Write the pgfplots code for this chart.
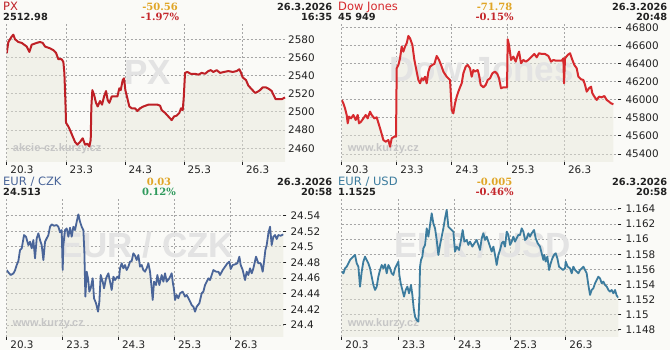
\documentclass[border=0pt]{standalone}
\usepackage{fontspec}
\setmainfont{DejaVu Sans}
\newfontfamily\serifb{DejaVu Serif}
\newfontfamily\wmfont{Liberation Sans}
\usepackage{xcolor}
\usepackage{pgfplots}
\usepackage{pgfplotstable}
\usepgfplotslibrary{fillbetween}
\pgfplotsset{compat=1.18}

\definecolor{bgc}{HTML}{FAFAF7}
\definecolor{fillc}{HTML}{E8E8DA}
\definecolor{gridc}{HTML}{A6A6A6}
\definecolor{pxc}{HTML}{BE2026}
\definecolor{djc}{HTML}{D62A2E}
\definecolor{czkc}{HTML}{4A6599}
\definecolor{usdc}{HTML}{3C7C9E}
\definecolor{goldc}{HTML}{E0A526}
\definecolor{redc}{HTML}{C4262B}
\definecolor{greenc}{HTML}{2E9A5C}
\definecolor{txtc}{HTML}{222222}
\definecolor{wmc}{HTML}{E3E3E3}
\definecolor{sitec}{HTML}{C6C6C6}
\pagecolor{bgc}

\pgfplotstableread{
x y
20 2564.6
25 2577
35 2583
40 2585
45 2580
55 2577
65 2576
80 2572
88 2566
95 2574
110 2576
120 2577
128 2576
135 2572
150 2570
160 2568
168 2565
175 2558
185 2558
190 2555
193 2543
196 2513
198 2488
205 2484
210 2480
218 2473
225 2467
232 2464
240 2467
248 2471
255 2464
262 2465
268 2462
272 2469
274 2506
277 2524
282 2519
288 2510
293 2506
300 2512
306 2508
312 2517
318 2523
323 2513
328 2510
335 2517
345 2517
352 2517
358 2526
362 2524
368 2535
372 2537
376 2524
382 2515
388 2506
395 2504
405 2504
412 2501
420 2504
430 2506
445 2508
460 2508
472 2508
480 2507
485 2502
495 2499
505 2495
515 2491
522 2495
530 2496
538 2499
543 2504
548 2502
551 2515
555 2543
562 2544
572 2542
585 2542
595 2541
605 2543
615 2542
625 2545
632 2546
640 2544
650 2546
660 2543
672 2544
685 2545
698 2544
710 2545
718 2547
722 2544
728 2538
738 2535
745 2529
755 2525
765 2521
772 2522
780 2524
788 2527
798 2527
808 2525
815 2523
820 2519
827 2514
835 2514
845 2514
855 2516
}\pxdata

\pgfplotstableread{
x y
20 45997
25 45960
30 45905
35 45831
38 45739
42 45813
48 45794
55 45831
62 45776
68 45831
72 45739
78 45757
85 45794
92 45831
98 45794
105 45868
110 45831
118 45794
125 45805
132 45721
138 45647
145 45555
152 45536
160 45555
165 45481
170 45573
178 45592
183 45592
185 46347
190 46384
195 46457
200 46586
205 46531
210 46586
215 46623
220 46704
225 46678
232 46605
238 46439
245 46310
250 46218
255 46181
260 46236
265 46218
270 46254
275 46181
280 46310
285 46365
292 46384
298 46395
305 46483
312 46439
318 46384
325 46310
335 46254
345 46218
350 45886
355 45849
360 45960
365 46034
370 46089
375 46137
380 46181
385 46292
392 46365
398 46384
405 46347
410 46254
415 46328
420 46310
428 46328
432 46273
437 46163
445 46137
452 46163
458 46218
465 46236
472 46292
480 46310
487 46284
492 46236
498 46126
505 46137
516 46137
518 46667
522 46605
528 46439
535 46476
542 46420
548 46494
552 46531
558 46402
565 46439
572 46420
580 46439
590 46476
598 46505
605 46468
612 46513
620 46505
630 46505
640 46483
648 46420
655 46439
662 46431
680 46431
685 46457
687 46181
690 46457
698 46494
705 46513
712 46439
718 46384
725 46347
730 46254
738 46225
745 46218
750 46163
755 46089
762 46126
768 46144
772 46071
778 46034
785 45997
792 46034
800 46026
808 46041
815 45997
822 45979
828 45960
835 45949
}\djdata

\pgfplotstableread{
x y
20 24.4704
25 24.4674
32 24.4640
40 24.4660
45 24.4700
50 24.4768
55 24.4820
60 24.4960
65 24.4980
72 24.5152
78 24.5130
85 24.5024
90 24.5067
95 24.4982
100 24.5088
105 24.4854
110 24.5110
115 24.5174
120 24.5088
125 24.5024
130 24.4832
135 24.5067
140 24.5110
145 24.5152
150 24.5259
155 24.5289
162 24.5272
170 24.5280
175 24.5259
180 24.5187
185 24.5216
188 24.4704
190 24.5024
195 24.5216
200 24.5238
205 24.5131
210 24.5246
215 24.5131
220 24.5259
225 24.5216
230 24.5323
235 24.5417
240 24.5323
245 24.5259
250 24.5216
253 24.4939
256 24.4363
260 24.4683
264 24.4598
268 24.4427
272 24.4470
278 24.4598
282 24.4342
288 24.4278
294 24.4171
298 24.4299
302 24.4640
308 24.4555
312 24.4470
318 24.4598
325 24.4662
330 24.4555
335 24.4448
340 24.4619
345 24.4576
352 24.4619
357 24.4598
360 24.4726
365 24.4790
370 24.4726
375 24.4768
380 24.4704
385 24.4747
390 24.4811
395 24.4820
400 24.4918
405 24.4888
410 24.4832
415 24.4896
420 24.4747
425 24.4768
430 24.4704
435 24.4683
440 24.4726
445 24.4790
450 24.4683
455 24.4470
458 24.4320
462 24.4555
468 24.4512
472 24.4640
478 24.4512
485 24.4640
490 24.4555
495 24.4662
500 24.4555
508 24.4598
515 24.4662
518 24.4555
522 24.4448
525 24.4320
530 24.4384
535 24.4342
540 24.4406
548 24.4427
555 24.4363
560 24.4384
568 24.4320
575 24.4256
580 24.4235
585 24.4171
590 24.4235
598 24.4278
605 24.4406
610 24.4427
615 24.4512
620 24.4555
625 24.4598
630 24.4576
635 24.4640
640 24.4704
648 24.4683
655 24.4683
660 24.4640
668 24.4704
675 24.4747
682 24.4790
688 24.4811
692 24.4717
698 24.4768
705 24.4777
712 24.4790
718 24.4875
722 24.4768
728 24.4704
735 24.4576
740 24.4683
745 24.4640
750 24.4726
755 24.4662
760 24.4726
768 24.4875
775 24.4790
782 24.4790
788 24.4683
792 24.4811
796 24.4960
800 24.5024
805 24.5174
810 24.5259
815 24.5024
820 24.5131
825 24.5152
830 24.5101
835 24.5152
842 24.5144
850 24.5160
}\czkdata

\pgfplotstableread{
x y
20 1.15571
25 1.15549
30 1.15615
35 1.15637
40 1.15681
45 1.15726
50 1.15748
55 1.15770
60 1.15792
65 1.15681
70 1.15637
75 1.15373
80 1.15571
85 1.15704
90 1.15770
95 1.15726
100 1.15681
105 1.15615
110 1.15505
115 1.15395
120 1.15329
125 1.15373
130 1.15505
135 1.15593
140 1.15659
145 1.15615
150 1.15668
155 1.15549
160 1.15659
165 1.15615
170 1.15549
175 1.15527
180 1.15615
185 1.15659
190 1.15704
193 1.15527
197 1.15417
202 1.15329
207 1.15241
212 1.15329
217 1.15373
222 1.15285
228 1.15395
232 1.15263
236 1.15086
240 1.14976
245 1.14932
250 1.14910
253 1.15219
255 1.15637
258 1.15726
262 1.15770
265 1.15880
270 1.15924
275 1.16144
280 1.16034
285 1.16188
290 1.16343
295 1.16210
300 1.16144
305 1.15990
310 1.15792
315 1.15924
320 1.16034
325 1.16144
330 1.16277
335 1.16387
340 1.16166
345 1.16144
350 1.16122
355 1.16100
360 1.15836
365 1.15902
372 1.15858
378 1.15990
383 1.16122
388 1.15968
395 1.15990
400 1.15924
405 1.15968
412 1.15902
418 1.15946
425 1.15990
430 1.15924
435 1.15858
440 1.16012
445 1.16078
450 1.15990
455 1.16034
460 1.15968
465 1.15902
470 1.15836
475 1.15902
480 1.15792
485 1.15659
490 1.15792
495 1.15858
500 1.15946
505 1.15968
510 1.15902
515 1.16100
520 1.16056
525 1.15924
530 1.15968
535 1.16034
540 1.15968
545 1.16012
550 1.16056
555 1.16056
560 1.16144
565 1.16100
570 1.15990
575 1.16012
580 1.16078
585 1.16034
590 1.16078
597 1.16122
602 1.16012
608 1.15946
615 1.15902
620 1.15814
625 1.15726
628 1.15792
632 1.15704
637 1.15770
642 1.15593
647 1.15681
652 1.15748
657 1.15792
662 1.15814
667 1.15748
672 1.15637
678 1.15615
684 1.15593
690 1.15615
692 1.15704
698 1.15637
705 1.15615
710 1.15549
715 1.15637
720 1.15593
725 1.15571
730 1.15549
735 1.15593
740 1.15615
745 1.15637
750 1.15593
755 1.15549
760 1.15395
765 1.15263
770 1.15329
775 1.15351
780 1.15417
785 1.15461
790 1.15505
795 1.15483
800 1.15417
805 1.15439
810 1.15395
815 1.15373
820 1.15329
825 1.15307
830 1.15329
835 1.15285
840 1.15329
845 1.15254
850 1.15227
}\usddata

\pgfplotsset{panel/.style={
  scale only axis, height=139pt,
  axis line style={draw=none},
  scaled x ticks=false, scaled y ticks=false,
  grid=major,
  major grid style={draw=gridc, line width=0.9pt, dash pattern=on 2pt off 2pt},
  tick align=outside, major tick length=3pt,
  xtick pos=bottom, ytick pos=right, yticklabel pos=right,
  tick style={draw=txtc, line width=1pt},
  xticklabels={20.3,23.3,24.3,25.3,26.3},
  xticklabel style={anchor=north west, inner sep=0pt, xshift=3.5pt, yshift=-1pt,
    font=\fontsize{10.4}{12}\selectfont, text=txtc},
  yticklabel style={anchor=west, inner sep=0pt, xshift=4pt,
    font=\fontsize{10.4}{12}\selectfont, text=txtc},
}}

\newcommand{\hdname}{\fontsize{11.5}{13}\selectfont}
\newcommand{\hdval}{\bfseries\fontsize{9.8}{11}\selectfont}
\newcommand{\hdchg}{\serifb\bfseries\fontsize{10}{12}\selectfont}
\newcommand{\wm}{\wmfont\bfseries\fontsize{35}{40}\selectfont}
\newcommand{\site}{\wmfont\bfseries\fontsize{11}{13}\selectfont}

\begin{document}
\begin{tikzpicture}[x=1pt,y=1pt]
\path (0,0) rectangle (670,350);

% watermarks
\node[anchor=base, inner sep=0, text=wmc, font=\wm] at (147.5,265) {PX};
\node[anchor=base, inner sep=0, text=wmc, font=\wm] at (481.5,268) {Dow Jones};
\node[anchor=base, inner sep=0, text=wmc, font=\wm] at (146.5,92) {EUR / CZK};
\node[anchor=base, inner sep=0, text=wmc, font=\wm] at (482.5,92) {EUR / USD};
\node[anchor=base west, inner sep=0, text=sitec, font=\site] at (12.7,198) {akcie-cz.kurzy.cz};
\node[anchor=base west, inner sep=0, text=sitec, font=\site] at (347.7,198) {www.kurzy.cz};
\node[anchor=base west, inner sep=0, text=sitec, font=\site] at (12.7,23) {www.kurzy.cz};
\node[anchor=base west, inner sep=0, text=sitec, font=\site] at (347.7,23) {www.kurzy.cz};

% ---------- PX ----------
\begin{axis}[panel, at={(6.7pt,327pt)}, anchor=north west, width=279.33pt,
  xmin=20, xmax=858, ymin=2444.9, ymax=2597.9,
  xtick={20,198,375,552,727},
  ytick={2460,2480,2500,2520,2540,2560,2580},
  yticklabels={2460,2480,2500,2520,2540,2560,2580},
  ytick style={draw=none},
  yticklabel style={xshift=-5pt}]
\addplot[draw=none, name path=pxbase, forget plot] coordinates {(20,2444.9) (855,2444.9)};
\addplot[color=pxc, line width=2pt, line join=round, name path=pxline] table {\pxdata};
\addplot[fill=fillc, fill opacity=0.45, draw=none] fill between[of=pxline and pxbase];
\end{axis}

% ---------- Dow Jones ----------
\begin{axis}[panel, at={(341.7pt,327pt)}, anchor=north west, width=276.67pt,
  xmin=20, xmax=850, ymin=45312, ymax=46847,
  xtick={20,185,350,518,688},
  ytick={45400,45600,45800,46000,46200,46400,46600,46800},
  yticklabels={45400,45600,45800,46000,46200,46400,46600,46800}]
\addplot[draw=none, name path=djbase, forget plot] coordinates {(20,45312) (835,45312)};
\addplot[color=djc, line width=2pt, line join=round, name path=djline] table {\djdata};
\addplot[fill=fillc, fill opacity=0.45, draw=none] fill between[of=djline and djbase];
\end{axis}

% ---------- EUR/CZK ----------
\begin{axis}[panel, at={(6.7pt,152pt)}, anchor=north west, width=276.67pt,
  xmin=20, xmax=850, ymin=24.3846, ymax=24.5627,
  xtick={20,188,355,523,692},
  ytick={24.4,24.42,24.44,24.46,24.48,24.5,24.52,24.54},
  yticklabels={24.4,24.42,24.44,24.46,24.48,24.5,24.52,24.54}]
\addplot[draw=none, name path=czbase, forget plot] coordinates {(20,24.3846) (850,24.3846)};
\addplot[color=czkc, line width=1.8pt, line join=round, name path=czline] table {\czkdata};
\addplot[fill=fillc, fill opacity=0.45, draw=none] fill between[of=czline and czbase];
\end{axis}

% ---------- EUR/USD ----------
\begin{axis}[panel, at={(341.7pt,152pt)}, anchor=north west, width=276.67pt,
  xmin=20, xmax=850, ymin=1.14707, ymax=1.16545,
  xtick={20,190,358,525,692},
  ytick={1.148,1.15,1.152,1.154,1.156,1.158,1.16,1.162,1.164},
  yticklabels={1.148,1.15,1.152,1.154,1.156,1.158,1.16,1.162,1.164}]
\addplot[draw=none, name path=usbase, forget plot] coordinates {(20,1.14707) (850,1.14707)};
\addplot[color=usdc, line width=1.8pt, line join=round, name path=usline] table {\usddata};
\addplot[fill=fillc, fill opacity=0.45, draw=none] fill between[of=usline and usbase];
\end{axis}

% headers
\node[anchor=base west, inner sep=0, text=pxc, font=\hdname] at (3,339.7) {PX};
\node[anchor=base west, inner sep=0, text=txtc, font=\hdval] at (3,329.3) {2512.98};
\node[anchor=base, inner sep=0, text=goldc, font=\hdchg] at (160,339.7) {-50.56};
\node[anchor=base, inner sep=0, text=redc, font=\hdchg] at (160,329.3) {-1.97\%};
\node[anchor=base east, inner sep=0, text=txtc, font=\hdval] at (332.5,339.7) {26.3.2026};
\node[anchor=base east, inner sep=0, text=txtc, font=\hdval] at (332.5,329.3) {16:35};

\node[anchor=base west, inner sep=0, text=djc, font=\hdname] at (338,339.7) {Dow Jones};
\node[anchor=base west, inner sep=0, text=txtc, font=\hdval] at (338,329.3) {45 949};
\node[anchor=base, inner sep=0, text=goldc, font=\hdchg] at (494.5,339.7) {-71.78};
\node[anchor=base, inner sep=0, text=redc, font=\hdchg] at (494.5,329.3) {-0.15\%};
\node[anchor=base east, inner sep=0, text=txtc, font=\hdval] at (667.5,339.7) {26.3.2026};
\node[anchor=base east, inner sep=0, text=txtc, font=\hdval] at (667.5,329.3) {20:48};

\node[anchor=base west, inner sep=0, text=czkc, font=\hdname] at (3,164.7) {EUR / CZK};
\node[anchor=base west, inner sep=0, text=txtc, font=\hdval] at (3,154.3) {24.513};
\node[anchor=base, inner sep=0, text=goldc, font=\hdchg] at (159,164.7) {0.03};
\node[anchor=base, inner sep=0, text=greenc, font=\hdchg] at (159,154.3) {0.12\%};
\node[anchor=base east, inner sep=0, text=txtc, font=\hdval] at (332.5,164.7) {26.3.2026};
\node[anchor=base east, inner sep=0, text=txtc, font=\hdval] at (332.5,154.3) {20:58};

\node[anchor=base west, inner sep=0, text=usdc, font=\hdname] at (338,164.7) {EUR / USD};
\node[anchor=base west, inner sep=0, text=txtc, font=\hdval] at (338,154.3) {1.1525};
\node[anchor=base, inner sep=0, text=goldc, font=\hdchg] at (494.5,164.7) {-0.005};
\node[anchor=base, inner sep=0, text=redc, font=\hdchg] at (494.5,154.3) {-0.46\%};
\node[anchor=base east, inner sep=0, text=txtc, font=\hdval] at (667.5,164.7) {26.3.2026};
\node[anchor=base east, inner sep=0, text=txtc, font=\hdval] at (667.5,154.3) {20:58};

\pgfresetboundingbox
\path[use as bounding box] (0,0) rectangle (670,350);
\end{tikzpicture}
\end{document}
